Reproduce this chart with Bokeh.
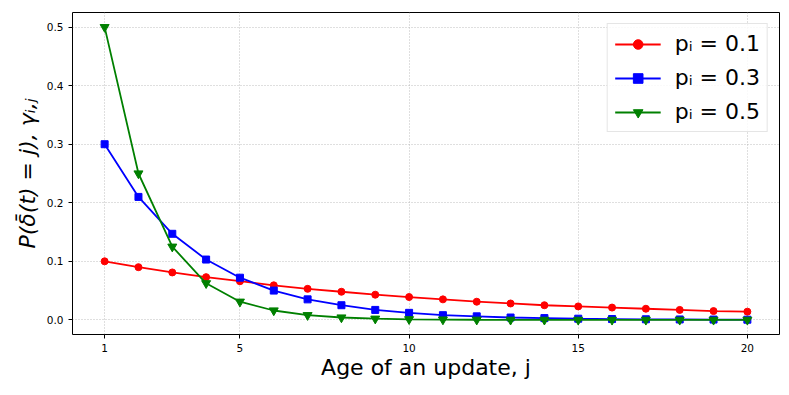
from bokeh.plotting import figure
from bokeh.models import Range1d, FixedTicker, PrintfTickFormatter
from bokeh.embed import file_html
from bokeh.resources import INLINE

ages = list(range(1, 21))
x_ticks = [1, 5, 10, 15, 20]
y_ticks = [0.0, 0.1, 0.2, 0.3, 0.4, 0.5]

p_01 = [0.100, 0.090, 0.081, 0.073, 0.066, 0.059, 0.053, 0.048, 0.043, 0.039,
        0.035, 0.031, 0.028, 0.025, 0.023, 0.021, 0.019, 0.017, 0.015, 0.014]
p_03 = [0.300, 0.210, 0.147, 0.103, 0.072, 0.050, 0.035, 0.025, 0.017, 0.012,
        0.008, 0.006, 0.004, 0.003, 0.002, 0.0014, 0.001, 0.0007, 0.0005, 0.0003]
p_05 = [0.500, 0.250, 0.125, 0.0625, 0.031, 0.016, 0.008, 0.004, 0.002, 0.001,
        0.0005, 0.0002, 0.0001, 0.0001, 0.0, 0.0, 0.0, 0.0, 0.0, 0.0]

series = [
    ("p\u1d62 = 0.1", p_01, "#ff0000", "circle", 7),
    ("p\u1d62 = 0.3", p_03, "#0000ff", "square", 7),
    ("p\u1d62 = 0.5", p_05, "#008000", "inverted_triangle", 9),
]

p = figure(width=783, height=387, output_backend="svg", toolbar_location=None,
           x_range=Range1d(0.05, 20.95), y_range=Range1d(-0.025, 0.525),
           min_border_left=72, min_border_right=4, min_border_top=12, min_border_bottom=53)

for label, vals, color, marker, size in series:
    p.line(ages, vals, line_color=color, line_width=1.8, legend_label=label)
    p.scatter(ages, vals, marker=marker, size=size, fill_color=color, line_color=color,
              legend_label=label)

p.outline_line_color = "black"
p.outline_line_width = 1

for ax in (p.xaxis[0], p.yaxis[0]):
    ax.axis_line_color = None
    ax.major_tick_in = 0
    ax.major_tick_out = 4
    ax.minor_tick_line_color = None
    ax.major_tick_line_color = "black"
    ax.major_label_text_font = "DejaVu Sans"
    ax.major_label_text_font_size = "10.5px"
    ax.major_label_text_color = "black"
    ax.axis_label_text_font = "DejaVu Sans"
    ax.axis_label_text_font_size = "22px"
    ax.axis_label_text_color = "black"

p.xaxis.ticker = FixedTicker(ticks=x_ticks)
p.yaxis.ticker = FixedTicker(ticks=y_ticks)
p.yaxis.formatter = PrintfTickFormatter(format="%.1f")
p.xaxis.axis_label = "Age of an update, j"
p.xaxis.axis_label_text_font_style = "normal"
p.xaxis.axis_label_standoff = 0
p.yaxis.axis_label = "P(\u03b4\u0304(t) = j), \u03b3\u1d62,\u2c7c"
p.yaxis.axis_label_text_font_style = "italic"
p.yaxis.axis_label_standoff = 4

p.grid.grid_line_color = "#b0b0b0"
p.grid.grid_line_dash = "1 2"
p.grid.grid_line_alpha = 0.8
p.xgrid.ticker = FixedTicker(ticks=x_ticks)
p.ygrid.ticker = FixedTicker(ticks=y_ticks)

lg = p.legend[0]
lg.location = "top_right"
lg.margin = 11
lg.label_text_font = "DejaVu Sans"
lg.label_text_font_size = "22px"
lg.label_text_color = "black"
lg.glyph_width = 46
lg.glyph_height = 24
lg.label_height = 24
lg.label_standoff = 14
lg.spacing = 9
lg.padding = 7
lg.border_line_color = "#cccccc"
lg.border_line_width = 1
lg.background_fill_alpha = 0.85

open("out.html", "w").write(file_html(p, INLINE))
